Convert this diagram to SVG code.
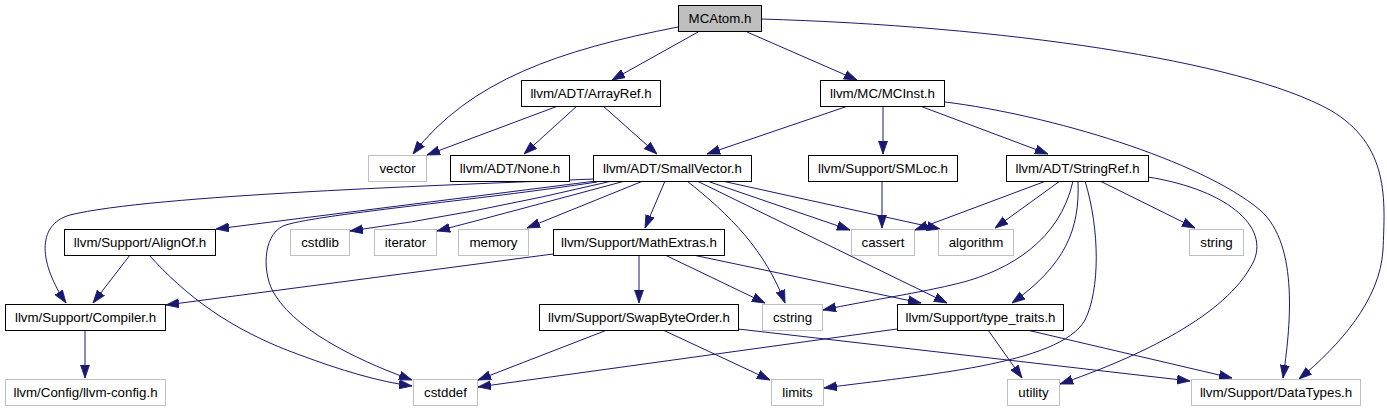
<svg xmlns="http://www.w3.org/2000/svg" width="1387" height="411" viewBox="0 0 1387 411">
<style>
.n rect{fill:#fff;stroke:#000;stroke-width:1}
.g rect{fill:#fff;stroke:#bfbfbf;stroke-width:1}
.root rect{fill:#bfbfbf;stroke:#000;stroke-width:1}
text{font-family:"Liberation Sans",Arial,sans-serif;font-size:13.3px;text-anchor:middle;fill:#000}
#edges path{fill:none;stroke:#191970;stroke-width:1;marker-end:url(#arr)}
</style>
<defs>
<marker id="arr" markerUnits="userSpaceOnUse" viewBox="0 0 13 10" refX="13" refY="5" markerWidth="13" markerHeight="10" orient="auto">
<path d="M0,0.5 L13,5 L0,9.5 z" fill="#191970" stroke="#191970" stroke-width="0.8"/>
</marker>
</defs>
<rect width="1387" height="411" fill="#fff"/>
<g id="edges">
<path d="M678,27 C560,50 470,80 413,154"/>
<path d="M698,32 L612,80"/>
<path d="M747,32 L857,80"/>
<path d="M761,19 C1000,26 1240,60 1330,110 C1390,145 1385,200 1383,250 C1380,300 1340,345 1299,379"/>
<path d="M558,106 L427,155"/>
<path d="M577,106 L524,154"/>
<path d="M603,106 L657,154"/>
<path d="M848,106 L707,154"/>
<path d="M883,106 L883,154"/>
<path d="M920,106 L1048,154"/>
<path d="M945,102 C1050,115 1200,160 1260,210 C1300,245 1290,330 1283,378"/>
<path d="M596,181 L216,229"/>
<path d="M594,179 C450,185 150,195 70,215 C35,225 40,265 66,303"/>
<path d="M597,182 C480,200 310,215 283,226 C262,236 262,275 275,295 C300,335 370,365 412,380"/>
<path d="M612,181 Q470,215 350,231"/>
<path d="M625,181 Q480,220 437,231"/>
<path d="M643,181 L527,228"/>
<path d="M665,181 L645,228"/>
<path d="M707,181 L850,230"/>
<path d="M722,181 L940,229"/>
<path d="M687,181 C730,215 765,250 785,303"/>
<path d="M697,181 L947,303"/>
<path d="M693,255 L921,303"/>
<path d="M665,255 L765,303"/>
<path d="M639,255 L639,303"/>
<path d="M553,254 L166,305"/>
<path d="M1046,181 L915,230"/>
<path d="M1060,181 L995,228"/>
<path d="M1100,181 L1195,228"/>
<path d="M1073,181 C1060,240 1010,270 960,283 C920,293 870,300 823,310"/>
<path d="M1078,181 C1080,230 1065,265 1012,303"/>
<path d="M1085,181 C1100,230 1100,290 1085,320 C1060,365 920,375 824,388"/>
<path d="M1148,177 C1230,190 1275,230 1250,268 C1220,320 1130,360 1060,384"/>
<path d="M882,181 L882,228"/>
<path d="M130,255 L93,303"/>
<path d="M149,255 C185,295 230,330 300,355 C340,370 380,382 412,386"/>
<path d="M85,330 L85,378"/>
<path d="M607,330 L478,380"/>
<path d="M663,330 L770,380"/>
<path d="M738,329 L1190,381"/>
<path d="M897,329 L478,387"/>
<path d="M988,330 L1022,378"/>
<path d="M1027,330 L1232,378"/>
</g>
<g id="MCAtom" class="root"><rect x="678.5" y="5.5" width="83" height="26"/><text x="720" y="23">MCAtom.h</text></g>
<g id="ArrayRef" class="n"><rect x="521.5" y="80.5" width="139" height="26"/><text x="591" y="98">llvm/ADT/ArrayRef.h</text></g>
<g id="MCInst" class="n"><rect x="820.5" y="80.5" width="124" height="26"/><text x="882.5" y="98">llvm/MC/MCInst.h</text></g>
<g id="vector" class="g"><rect x="368.5" y="155.5" width="58" height="26"/><text x="397.5" y="173">vector</text></g>
<g id="None" class="n"><rect x="450.5" y="155.5" width="119" height="26"/><text x="510" y="173">llvm/ADT/None.h</text></g>
<g id="SmallVector" class="n"><rect x="593.5" y="155.5" width="158" height="26"/><text x="672.5" y="173">llvm/ADT/SmallVector.h</text></g>
<g id="SMLoc" class="n"><rect x="808.5" y="155.5" width="149" height="26"/><text x="883" y="173">llvm/Support/SMLoc.h</text></g>
<g id="StringRef" class="n"><rect x="1006.5" y="155.5" width="142" height="26"/><text x="1077.5" y="173">llvm/ADT/StringRef.h</text></g>
<g id="AlignOf" class="n"><rect x="64.5" y="229.5" width="151" height="26"/><text x="140" y="247">llvm/Support/AlignOf.h</text></g>
<g id="cstdlib" class="g"><rect x="290.5" y="229.5" width="59" height="26"/><text x="320" y="247">cstdlib</text></g>
<g id="iterator" class="g"><rect x="374.5" y="229.5" width="62" height="26"/><text x="405.5" y="247">iterator</text></g>
<g id="memory" class="g"><rect x="458.5" y="229.5" width="70" height="26"/><text x="493.5" y="247">memory</text></g>
<g id="MathExtras" class="n"><rect x="553.5" y="229.5" width="171" height="26"/><text x="639" y="247">llvm/Support/MathExtras.h</text></g>
<g id="cassert" class="g"><rect x="851.5" y="229.5" width="63" height="26"/><text x="883" y="247">cassert</text></g>
<g id="algorithm" class="g"><rect x="938.5" y="229.5" width="75" height="26"/><text x="976" y="247">algorithm</text></g>
<g id="string" class="g"><rect x="1189.5" y="229.5" width="54" height="26"/><text x="1216.5" y="247">string</text></g>
<g id="Compiler" class="n"><rect x="5.5" y="304.5" width="160" height="26"/><text x="85.5" y="322">llvm/Support/Compiler.h</text></g>
<g id="SwapByteOrder" class="n"><rect x="539.5" y="304.5" width="199" height="26"/><text x="639" y="322">llvm/Support/SwapByteOrder.h</text></g>
<g id="cstring" class="g"><rect x="762.5" y="304.5" width="60" height="26"/><text x="792.5" y="322">cstring</text></g>
<g id="type_traits" class="n"><rect x="897.5" y="304.5" width="166" height="26"/><text x="980.5" y="322">llvm/Support/type_traits.h</text></g>
<g id="llvm-config" class="g"><rect x="5.5" y="379.5" width="160" height="26"/><text x="85.5" y="397">llvm/Config/llvm-config.h</text></g>
<g id="cstddef" class="g"><rect x="413.5" y="379.5" width="64" height="26"/><text x="445.5" y="397">cstddef</text></g>
<g id="limits" class="g"><rect x="771.5" y="379.5" width="52" height="26"/><text x="797.5" y="397">limits</text></g>
<g id="utility" class="g"><rect x="1007.5" y="379.5" width="52" height="26"/><text x="1033.5" y="397">utility</text></g>
<g id="DataTypes" class="g"><rect x="1191.5" y="379.5" width="169" height="26"/><text x="1276" y="397">llvm/Support/DataTypes.h</text></g>
</svg>
